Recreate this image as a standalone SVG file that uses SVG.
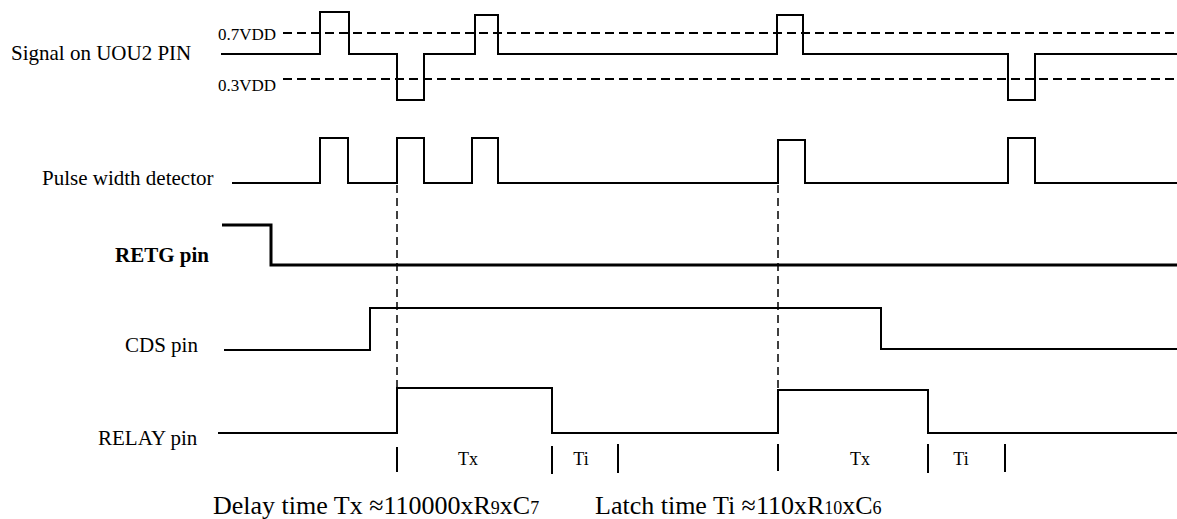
<svg xmlns="http://www.w3.org/2000/svg" width="1177" height="519" viewBox="0 0 1177 519">
<style>
text{font-family:"Liberation Serif","Times New Roman",serif;fill:#000}
.lbl{font-size:21px}
.ref{font-size:17px}
.t{font-size:18px;text-anchor:middle}
.f{font-size:26px}
.sub{font-size:18px}
.sig{fill:none;stroke:#000;stroke-width:2;stroke-linejoin:miter}
.thick{fill:none;stroke:#000;stroke-width:3}
.dash{fill:none;stroke:#000;stroke-width:2;stroke-dasharray:9 5}
.vdash{fill:none;stroke:#000;stroke-width:1.5;stroke-dasharray:8 5}
.tick{stroke:#000;stroke-width:2}
</style>
<rect width="1177" height="519" fill="#fff"/>
<g id="uou2">
<text class="lbl" x="11" y="60">Signal on UOU2 PIN</text>
<text class="ref" x="218" y="40">0.7VDD</text>
<text class="ref" x="218" y="91">0.3VDD</text>
<line class="dash" x1="283" y1="33" x2="1177" y2="33"/>
<line class="dash" x1="283" y1="79" x2="1177" y2="79"/>
<path class="sig" d="M221,54 H320 V12 H349 V54 H397 V100 H424 V54 H475 V15 H498 V54 H777 V15 H803 V54 H1008 V100 H1035 V54 H1177"/>
</g>
<g id="pulse">
<text class="lbl" x="42" y="185">Pulse width detector</text>
<path class="sig" d="M232,183 H320 V138 H348 V183 H397 V138 H424 V183 H472 V138 H498 V183 H778 V140 H805 V183 H1008 V138 H1035 V183 H1177"/>
</g>
<g id="retg">
<text class="lbl" x="115" y="262" font-weight="bold">RETG pin</text>
<path class="thick" d="M222,225 H271 V265 H1177"/>
</g>
<g id="cds">
<text class="lbl" x="125" y="352">CDS pin</text>
<path class="sig" d="M224,350 H370 V308 H881 V349 H1177"/>
</g>
<g id="relay">
<text class="lbl" x="98" y="445">RELAY pin</text>
<path class="sig" d="M218,433 H397 V388 H552 V433 H778 V390 H928 V433 H1177"/>
</g>
<g id="connectors">
<line class="vdash" x1="397" y1="185" x2="397" y2="388"/>
<line class="vdash" x1="778" y1="185" x2="778" y2="390"/>
</g>
<g id="timing">
<line class="tick" x1="397" y1="447" x2="397" y2="472"/>
<line class="tick" x1="552" y1="446" x2="552" y2="474"/>
<line class="tick" x1="618" y1="444" x2="618" y2="473"/>
<line class="tick" x1="778" y1="444" x2="778" y2="471"/>
<line class="tick" x1="928" y1="444" x2="928" y2="473"/>
<line class="tick" x1="1005" y1="444" x2="1005" y2="472"/>
<text class="t" x="468" y="465">Tx</text>
<text class="t" x="581" y="465">Ti</text>
<text class="t" x="860" y="465">Tx</text>
<text class="t" x="961" y="465">Ti</text>
</g>
<g id="formulas">
<text class="f" x="213" y="514">Delay time Tx ≈110000xR<tspan class="sub">9</tspan>xC<tspan class="sub">7</tspan></text>
<text class="f" x="595" y="514">Latch time Ti ≈110xR<tspan class="sub">10</tspan>xC<tspan class="sub">6</tspan></text>
</g>
</svg>
